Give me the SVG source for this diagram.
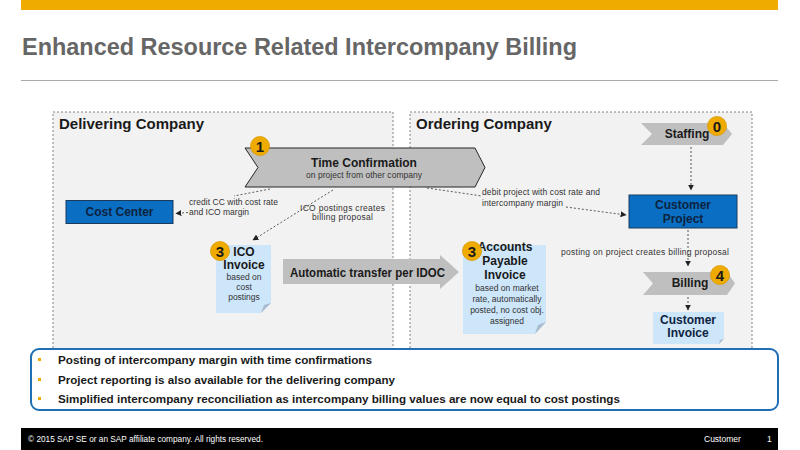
<svg xmlns="http://www.w3.org/2000/svg" width="800" height="450" viewBox="0 0 800 450">
<defs>
<style>
text{font-family:"Liberation Sans",Arial,sans-serif}
.b{font-weight:bold}
.sm{font-size:8.5px;fill:#333}
.zone{fill:#f2f2f2;stroke:#666;stroke-width:0.8;stroke-dasharray:2,2}
.chev{fill:#bfbfbf}
.blue{fill:#0a6fc2;stroke:#1b3a5c;stroke-width:1}
.bt{font-size:12px;font-weight:bold;fill:#0d2340;text-anchor:middle}
.note{fill:#cde6fa}
.fold{fill:#a9bccf}
.nt{font-size:12px;font-weight:bold;fill:#1a1a1a;text-anchor:middle}
.ns{font-size:8.5px;fill:#333;text-anchor:middle}
.badge{fill:#f0ab00;stroke:#d99a00;stroke-width:0.8}
.bn{font-size:15px;font-weight:bold;fill:#1a1a1a;text-anchor:middle}
.con{fill:none;stroke:#333;stroke-width:0.8;stroke-dasharray:2,2}
.bul{font-size:11.5px;font-weight:bold;fill:#1a1a1a}
</style>
<marker id="ah" viewBox="0 0 10 10" refX="9" refY="5" markerWidth="6" markerHeight="6" orient="auto" markerUnits="userSpaceOnUse"><path d="M0,0 L10,5 L0,10 z" fill="#222"/></marker>
</defs>
<rect width="800" height="450" fill="#fff"/>
<rect x="21" y="0" width="757" height="10" fill="#f0ab00"/>
<text x="22" y="55" font-size="23" class="b" fill="#666" textLength="555" lengthAdjust="spacingAndGlyphs">Enhanced Resource Related Intercompany Billing</text>
<line x1="21" y1="80.5" x2="778" y2="80.5" stroke="#aaa" stroke-width="1"/>

<g id="delivering">
<rect class="zone" x="53" y="112" width="340" height="242"/>
<text x="59" y="129" font-size="15" class="b" fill="#1a1a1a">Delivering Company</text>
</g>
<g id="ordering">
<rect class="zone" x="410" y="112" width="342" height="242"/>
<text x="416" y="129" font-size="15" class="b" fill="#1a1a1a">Ordering Company</text>
</g>

<g id="connectors">
<path class="con" d="M270,189 L234,196"/>
<path class="con" d="M188,212.5 L176,213.5" marker-end="url(#ah)"/>
<path class="con" d="M333,190 L253,240" marker-end="url(#ah)"/>
<path class="con" d="M427,188 L482,196"/>
<path class="con" d="M566,207 L626,215" marker-end="url(#ah)"/>
<path class="con" d="M691,147 L691,190" marker-end="url(#ah)"/>
<path class="con" d="M688,230 L688,266" marker-end="url(#ah)"/>
<path class="con" d="M688,297 L688,310" marker-end="url(#ah)"/>
<path d="M283,259 L440,259 L440,255 L459,272 L440,289 L440,284 L283,284 Z" fill="#bfbfbf"/>
<text x="290" y="277" font-size="12.5" class="b" fill="#1a1a1a" textLength="155" lengthAdjust="spacingAndGlyphs">Automatic transfer per IDOC</text>
<text x="189" y="205" class="sm" textLength="89" lengthAdjust="spacing">credit CC with cost rate</text>
<text x="189" y="215" class="sm">and ICO margin</text>
<text x="300" y="211" class="sm" textLength="85" lengthAdjust="spacing">ICO postings creates</text>
<text x="312" y="220" class="sm" textLength="61" lengthAdjust="spacing">billing proposal</text>
<text x="482" y="195" class="sm" textLength="118" lengthAdjust="spacing">debit project with cost rate and</text>
<text x="482" y="206" class="sm" textLength="81" lengthAdjust="spacing">intercompany margin</text>
<text x="561" y="255" class="sm" textLength="168" lengthAdjust="spacing">posting on project creates billing proposal</text>
</g>

<g id="time-confirmation">
<path d="M245,148 L475,148 L485,167.5 L475,187 L245,187 L258,167.5 Z" fill="#bfbfbf" stroke="#262626" stroke-width="1"/>
<text x="364" y="167" font-size="12" class="b" fill="#1a1a1a" text-anchor="middle">Time Confirmation</text>
<text x="306" y="178" class="sm" textLength="116" lengthAdjust="spacing">on project from other company</text>
<circle class="badge" cx="260" cy="146" r="9.5"/>
<text class="bn" x="260" y="151.5">1</text>
</g>

<g id="cost-center">
<rect class="blue" x="66" y="200.5" width="107" height="23"/>
<text class="bt" x="119.5" y="216">Cost Center</text>
</g>

<g id="ico-invoice">
<path class="note" d="M216,245 L271,245 L271,303 L261,313 L216,313 Z"/>
<path class="fold" d="M261,313 L271,303 L264,305 Z"/>
<text class="nt" x="244" y="256" font-size="13">ICO</text>
<text class="nt" x="244" y="269" font-size="13">Invoice</text>
<text class="ns" x="244" y="280">based  on</text>
<text class="ns" x="244" y="290">cost</text>
<text class="ns" x="244" y="300">postings</text>
<circle class="badge" cx="220" cy="251" r="9.5"/>
<text class="bn" x="220" y="256.5">3</text>
</g>

<g id="ap-invoice">
<path class="note" d="M463,245 L546,245 L546,322 L535,334 L463,334 Z"/>
<path class="fold" d="M535,334 L546,322 L538,325 Z"/>
<text class="nt" x="505" y="251">Accounts</text>
<text class="nt" x="505" y="265">Payable</text>
<text class="nt" x="505" y="279">Invoice</text>
<text class="ns" x="507" y="291" font-size="8">based on market</text>
<text class="ns" x="507" y="302" font-size="8">rate, automatically</text>
<text class="ns" x="507" y="313" font-size="8">posted, no cost obj.</text>
<text class="ns" x="507" y="324" font-size="8">assigned</text>
<circle class="badge" cx="472" cy="251" r="9.5"/>
<text class="bn" x="472" y="256.5">3</text>
</g>

<g id="staffing">
<path class="chev" d="M641,123 L723,123 L732,134 L723,145 L641,145 L652,134 Z"/>
<text x="687" y="138" font-size="12" class="b" fill="#1a1a1a" text-anchor="middle">Staffing</text>
<circle class="badge" cx="717" cy="126" r="9.5"/>
<text class="bn" x="717" y="131.5">0</text>
</g>

<g id="customer-project">
<rect class="blue" x="629" y="195" width="108" height="33"/>
<text class="bt" x="683" y="209">Customer</text>
<text class="bt" x="683" y="223">Project</text>
</g>

<g id="billing">
<path class="chev" d="M643,272 L727,272 L735,283.5 L727,295 L643,295 L653,283.5 Z"/>
<text x="690" y="287" font-size="12" class="b" fill="#1a1a1a" text-anchor="middle">Billing</text>
<circle class="badge" cx="720" cy="275" r="9.5"/>
<text class="bn" x="720" y="280.5">4</text>
</g>

<g id="customer-invoice">
<path class="note" d="M653,312 L724,312 L724,339 L719,344 L653,344 Z"/>
<path class="fold" d="M719,344 L724,339 L720,340 Z"/>
<text class="bt" x="688" y="324">Customer</text>
<text class="bt" x="688" y="337">Invoice</text>
</g>

<g id="summary">
<rect x="31" y="349" width="747" height="61" rx="8" fill="#fff" stroke="#1f6fb5" stroke-width="2"/>
<rect x="38" y="358" width="3" height="3" fill="#f0ab00"/>
<rect x="38" y="378" width="3" height="3" fill="#f0ab00"/>
<rect x="38" y="397" width="3" height="3" fill="#f0ab00"/>
<text class="bul" x="58" y="364" textLength="314" lengthAdjust="spacingAndGlyphs">Posting of intercompany margin with time confirmations</text>
<text class="bul" x="58" y="384" textLength="337" lengthAdjust="spacingAndGlyphs">Project reporting is also available for the delivering company</text>
<text class="bul" x="58" y="403" textLength="562" lengthAdjust="spacingAndGlyphs">Simplified intercompany reconciliation as intercompany billing values are now equal to cost postings</text>
</g>

<g id="footer">
<rect x="21" y="428" width="757" height="22" fill="#000"/>
<text x="28" y="442" font-size="8.5" fill="#fff" textLength="235" lengthAdjust="spacingAndGlyphs">© 2015 SAP SE or an SAP affiliate company. All rights reserved.</text>
<text x="704" y="442" font-size="8.5" fill="#fff">Customer</text>
<text x="767" y="442" font-size="8.5" fill="#fff">1</text>
</g>
</svg>
